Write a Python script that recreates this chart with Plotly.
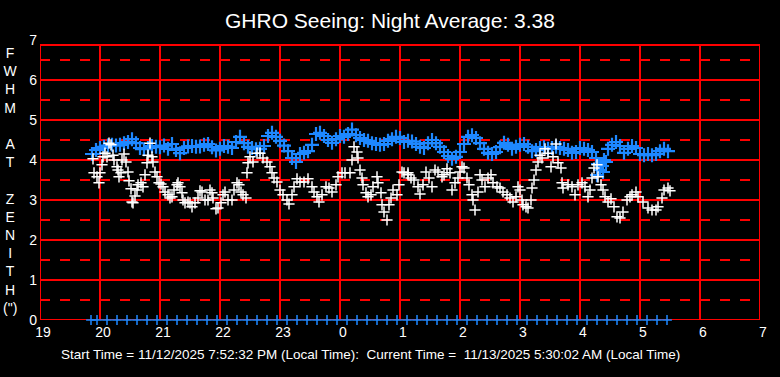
import plotly.graph_objects as go

# ---------------- data ----------------
TITLE = "GHRO Seeing: Night Average: 3.38"
FOOTER = "Start Time = 11/12/2025 7:52:32 PM (Local Time):\u00a0 Current Time =\u00a0 11/13/2025 5:30:02 AM (Local Time)"
Y_LABEL_LETTERS = ["F", "W", "H", "M", "", "A", "T", "", "Z", "E", "N", "I", "T", "H", "(\")"]

x_tick_vals = [19, 20, 21, 22, 23, 24, 25, 26, 27, 28, 29, 30, 31]
x_tick_text = ["19", "20", "21", "22", "23", "0", "1", "2", "3", "4", "5", "6", "7"]
y_tick_vals = [0, 1, 2, 3, 4, 5, 6, 7]

# blue series: minutes after 19:00, every 4 minutes from 19:52
blue_start_min = 92 - 40
blue_step_min = 4
blue_values = [
    4.15, 4.25, 4.30, 4.33, 4.36, 4.38, 4.36, 4.38, 4.42, 4.45,
    4.52, 4.42, 4.30, 4.27, 4.30, 4.35, 4.33, 4.32, 4.36, 4.28,
    4.40, 4.25, 4.17, 4.30, 4.34, 4.35, 4.33, 4.34, 4.38, 4.40,
    4.32, 4.24, 4.28, 4.35, 4.33, 4.30, 4.45, 4.58, 4.42, 4.33,
    4.30, 4.27, 4.28, 4.35, 4.60, 4.68, 4.58, 4.48, 4.36, 4.22,
    4.05, 3.95, 4.15, 4.18, 4.22, 4.38, 4.65, 4.68, 4.60, 4.50,
    4.43, 4.52, 4.60, 4.58, 4.65, 4.76, 4.62, 4.55, 4.50, 4.48,
    4.42, 4.40, 4.38, 4.40, 4.48, 4.52, 4.58, 4.55, 4.45, 4.48,
    4.46, 4.40, 4.33, 4.30, 4.42, 4.50, 4.42, 4.33, 4.20, 4.10,
    4.03, 4.08, 4.20, 4.40, 4.58, 4.62, 4.55, 4.42, 4.28, 4.18,
    4.15, 4.20, 4.32, 4.43, 4.38, 4.28, 4.33, 4.38, 4.40, 4.33,
    4.22, 4.25, 4.30, 4.32, 4.28, 4.30, 4.33, 4.30, 4.28, 4.25,
    4.18, 4.20, 4.30, 4.28, 4.25, 4.20, 4.05, 3.75, 4.00, 4.28,
    4.38, 4.45, 4.35, 4.18, 4.28, 4.35, 4.30, 4.15, 4.12, 4.15,
    4.12, 4.15, 4.22, 4.28, 4.22,
]
blue_extra_min = [557, 558, 562, 566, 563]
blue_extra_val = [3.62, 3.90, 3.85, 3.95, 3.70]

# white series: minutes after 19:00 and FWHM values
white_min = [
    53, 54, 57, 59, 60, 62, 63, 65, 67, 69, 71, 73, 74, 77, 78, 79, 81, 82, 84, 86,
    88, 89, 91, 92, 93, 95, 97, 98, 101, 103, 105, 107, 108, 110, 112, 113, 115, 117, 119, 121,
    123, 125, 128, 130, 132, 134, 137, 138, 140, 142, 143, 145, 148, 150, 152, 155, 158, 160, 162, 165,
    168, 170, 172, 173, 176, 178, 181, 183, 185, 188, 192, 194, 197, 199, 201, 203, 206, 207, 208, 210,
    213, 217, 220, 223, 227, 230, 232, 234, 237, 240, 243, 247, 249, 252, 254, 257, 260, 264, 268, 272,
    274, 277, 279, 282, 286, 289, 292, 296, 298, 302, 305, 310, 312, 314, 317, 318, 320, 322, 323, 326,
    328, 331, 333, 337, 338, 341, 342, 344, 347, 349, 351, 353, 357, 359, 362, 364, 368, 368, 371, 374,
    378, 380, 383, 386, 389, 392, 395, 398, 402, 404, 407, 410, 412, 415, 418, 420, 422, 424, 427, 429,
    432, 433, 435, 438, 440, 442, 445, 448, 451, 453, 457, 460, 463, 467, 470, 473, 476, 478, 480, 482,
    483, 486, 488, 491, 492, 494, 496, 498, 500, 502, 505, 508, 511, 513, 516, 518, 521, 522, 523, 528,
    532, 535, 538, 542, 545, 548, 550, 552, 554, 557, 558, 561, 563, 565, 568, 571, 574, 577, 580, 583,
    587, 590, 592, 596, 598, 603, 608, 612, 616, 618, 622, 624, 628, 630,
]
white_val = [
    4.03, 3.68, 3.58, 3.43, 3.68, 3.88, 4.08, 4.17, 4.08, 4.42, 4.38, 4.12, 4.00, 3.83, 3.75, 3.58, 3.68, 4.00, 4.15, 3.95,
    3.70, 3.48, 3.28, 2.95, 2.93, 3.10, 3.25, 3.38, 3.43, 3.33, 3.63, 3.93, 4.12, 4.42, 4.08, 3.95, 3.70, 3.58, 3.43, 3.40,
    3.33, 3.20, 3.13, 3.05, 3.08, 3.25, 3.38, 3.43, 3.33, 3.18, 3.00, 2.93, 2.95, 2.93, 2.83, 2.93, 3.05, 3.23, 3.20, 3.00,
    3.00, 3.25, 3.18, 3.05, 2.78, 2.80, 2.93, 3.13, 3.20, 3.00, 3.00, 3.25, 3.43, 3.38, 3.20, 3.13, 3.05, 3.68, 3.93, 4.08,
    3.95, 4.17, 4.17, 4.05, 3.95, 3.83, 3.68, 3.55, 3.45, 3.25, 3.13, 3.00, 2.90, 3.13, 3.33, 3.53, 3.45, 3.45, 3.53, 3.33,
    3.20, 3.08, 2.95, 3.13, 3.33, 3.30, 3.20, 3.38, 3.58, 3.68, 3.68, 3.68, 4.00, 4.33, 4.20, 4.05, 3.75, 3.55, 3.38, 3.18,
    3.08, 3.13, 3.33, 3.58, 3.43, 3.18, 2.88, 2.70, 2.50, 2.88, 3.05, 3.25, 3.13, 3.38, 3.70, 3.68, 3.68, 3.63, 3.55, 3.50,
    3.33, 3.15, 3.38, 3.70, 3.55, 3.33, 3.75, 3.70, 3.58, 3.63, 3.78, 3.68, 3.25, 3.43, 3.55, 3.70, 3.83, 3.80, 3.55, 3.38,
    3.13, 3.00, 2.75, 3.20, 3.63, 3.50, 3.33, 3.55, 3.63, 3.43, 3.33, 3.30, 3.20, 3.13, 3.05, 2.95, 3.08, 3.33, 3.25, 3.00,
    2.88, 2.83, 2.80, 3.00, 3.30, 3.50, 3.75, 3.95, 4.12, 4.05, 4.28, 4.17, 3.83, 4.08, 4.40, 3.93, 3.80, 3.43, 3.30, 3.38,
    3.33, 3.13, 3.38, 3.43, 3.33, 3.08, 3.25, 3.55, 3.80, 3.88, 3.58, 3.38, 3.25, 3.08, 2.95, 3.03, 2.83, 2.58, 2.55, 2.70,
    3.00, 3.08, 3.13, 3.20, 3.08, 2.95, 2.80, 2.75, 2.75, 2.83, 3.05, 3.25, 3.30, 3.23,
]

# blue time stamps along the bottom axis (minutes after 19:00)
stamp_min = [
    51, 57, 67, 77, 87, 97, 107, 117, 127, 137, 147, 157, 167, 177, 187, 197, 207, 217, 227, 237,
    247, 257, 267, 277, 287, 297, 307, 317, 327, 337, 347, 357, 367, 377, 387, 397, 407, 417, 427, 437,
    447, 457, 467, 477, 487, 497, 507, 517, 527, 537, 547, 557, 567, 577, 587, 597, 607, 617, 627,
]

# ---------------- figure ----------------
BLUE = "#1E88FF"
RED = "#FF0000"
FONT = "Arial, Liberation Sans, sans-serif"


def to_hours(minutes):
    return [19 + m / 60.0 for m in minutes]


blue_min = [blue_start_min + i * blue_step_min for i in range(len(blue_values))]

fig = go.Figure()

fig.add_trace(go.Scatter(
    x=to_hours(blue_min + blue_extra_min), y=blue_values + blue_extra_val,
    mode="markers",
    marker=dict(symbol="cross-thin", size=10, line=dict(color=BLUE, width=2.2), color=BLUE),
    hoverinfo="skip", showlegend=False, cliponaxis=False))

fig.add_trace(go.Scatter(
    x=to_hours(white_min), y=white_val,
    mode="markers",
    marker=dict(symbol="cross-thin", size=8, line=dict(color="white", width=1.5), color="white"),
    hoverinfo="skip", showlegend=False))

fig.add_trace(go.Scatter(
    x=to_hours(stamp_min), y=[0] * len(stamp_min),
    mode="markers",
    marker=dict(symbol="cross-thin", size=7, line=dict(color=BLUE, width=1.5), color=BLUE),
    hoverinfo="skip", showlegend=False, cliponaxis=False))

TOP = 6.875
shapes = []
for xv in x_tick_vals:
    shapes.append(dict(type="line", xref="x", yref="y", x0=xv, x1=xv, y0=0, y1=TOP,
                       line=dict(color=RED, width=2), layer="below"))
for yv in [0, 1, 2, 3, 4, 5, 6, TOP]:
    shapes.append(dict(type="line", xref="x", yref="y", x0=19, x1=31, y0=yv, y1=yv,
                       line=dict(color=RED, width=2), layer="below"))
for yv in [0.5, 1.5, 2.5, 3.5, 4.5, 5.5, 6.5]:
    shapes.append(dict(type="line", xref="x", yref="y", x0=19, x1=31, y0=yv, y1=yv,
                       line=dict(color=RED, width=2, dash="10px,10px"), layer="below"))

fig.update_layout(
    width=780, height=377,
    paper_bgcolor="black", plot_bgcolor="black",
    margin=dict(l=40, r=20, t=40, b=57, autoexpand=False),
    font=dict(family=FONT, color="white", size=14),
    title=dict(text=TITLE, x=0.5, xanchor="center", y=1 - 21 / 377, yanchor="middle",
               font=dict(family=FONT, size=21, color="white")),
    xaxis=dict(range=[19, 31], tickvals=x_tick_vals, ticktext=x_tick_text,
               showgrid=False, zeroline=False, showline=False, ticks="", automargin=False,
               tickfont=dict(size=14, color="white"), ticklabelshift=3, ticklabelstandoff=2,
               fixedrange=True),
    yaxis=dict(range=[0, 7], tickvals=y_tick_vals, ticktext=[str(v) for v in y_tick_vals],
               showgrid=False, zeroline=False, showline=False, ticks="", automargin=False,
               tickfont=dict(size=14, color="white"), ticklabelstandoff=2, fixedrange=True),
    shapes=shapes,
    showlegend=False,
    annotations=[
        dict(text="<br>".join(Y_LABEL_LETTERS), xref="paper", yref="paper",
             x=(11 - 40) / 720, y=(320 - 180) / 280, xanchor="center", yanchor="middle",
             showarrow=False, align="center", font=dict(family=FONT, size=14, color="white")),
        dict(text=FOOTER, xref="paper", yref="paper",
             x=(370 - 40) / 720, y=(320 - 354) / 280, xanchor="center", yanchor="middle",
             showarrow=False, font=dict(family=FONT, size=13.5, color="white")),
    ],
)

fig.write_html(
    "out.html",
    config={"displayModeBar": False, "staticPlot": True},
    post_script="document.body.style.margin='0';document.body.style.background='black';",
)
